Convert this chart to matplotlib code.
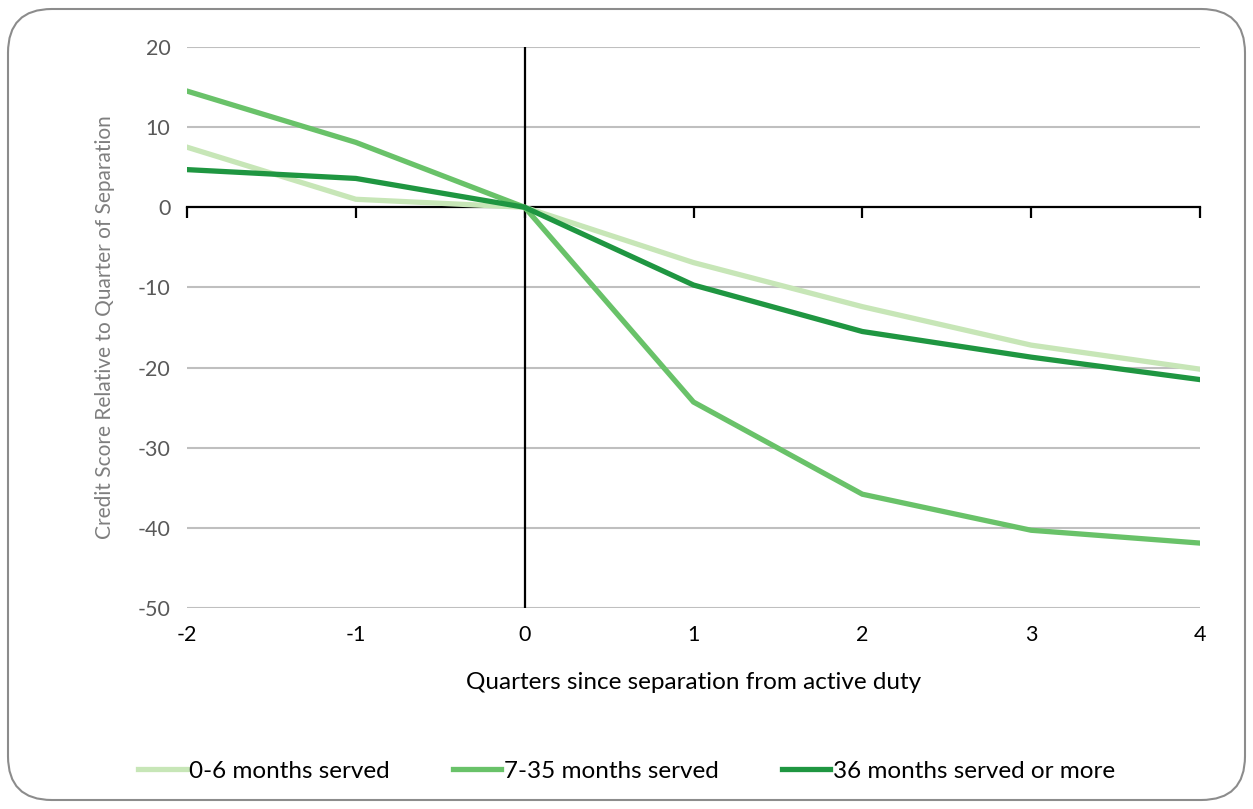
import matplotlib.pyplot as plt
from matplotlib.patches import FancyBboxPatch
from matplotlib.lines import Line2D

quarters = [-2, -1, 0, 1, 2, 3, 4]
short_served = [7.5, 1.0, 0.0, -6.9, -12.4, -17.2, -20.2]
mid_served = [14.5, 8.1, 0.0, -24.3, -35.8, -40.3, -41.9]
long_served = [4.7, 3.6, 0.0, -9.7, -15.5, -18.7, -21.5]

labels = ["0-6 months served", "7-35 months served", "36 months served or more"]
colors = ["#c7e6b7", "#69c269", "#1f9641"]
y_ticks = [20, 10, 0, -10, -20, -30, -40, -50]

plt.rcParams["font.family"] = ["Lato", "DejaVu Sans"]
plt.rcParams["axes.unicode_minus"] = False

fig = plt.figure(figsize=(12.53, 8.09), dpi=100)
ax = fig.add_axes([187 / 1253, 1 - 608 / 809, (1200 - 187) / 1253, (608 - 47) / 809])

# rounded frame around the chart area
frame = FancyBboxPatch((8 / 1253, 9 / 809), 1237 / 1253, 791 / 809,
                       boxstyle="round,pad=0,rounding_size=0.035",
                       transform=fig.transFigure, facecolor="none",
                       edgecolor="#8c8c8c", linewidth=1.5, mutation_aspect=1253 / 809)
fig.patches.append(frame)

for yv in y_ticks:
    if yv != 0:
        ax.axhline(yv, color="#bfbfbf", linewidth=1.5, zorder=1)

ax.axvline(0, color="black", linewidth=1.6, zorder=2)

series = [short_served, mid_served, long_served]
for vals, lab, col in zip(series, labels, colors):
    ax.plot(quarters, vals, color=col, linewidth=3.8, label=lab, zorder=3,
            solid_joinstyle="miter")

ax.set_xlim(-2, 4)
ax.set_ylim(-50, 20)

for s in ["top", "right", "left"]:
    ax.spines[s].set_visible(False)
ax.spines["bottom"].set_position(("data", 0))
ax.spines["bottom"].set_linewidth(1.6)
ax.spines["bottom"].set_zorder(2)

ax.set_xticks(quarters)
ax.tick_params(axis="x", direction="out", length=8, width=1.6, labelbottom=False)
ax.set_yticks(y_ticks)
ax.tick_params(axis="y", length=0, pad=12, labelsize=15.5, labelcolor="#595959")

# tick labels sit at the bottom of the plot, below the zero-line axis
sec = ax.secondary_xaxis("bottom")
sec.spines["bottom"].set_visible(False)
sec.set_xticks(quarters)
sec.set_xticklabels([str(q) for q in quarters])
sec.tick_params(length=0, pad=12, labelsize=15.5, labelcolor="black")
sec.set_xlabel("Quarters since separation from active duty", fontsize=17.5,
               color="black", labelpad=20)

ax.set_ylabel("Credit Score Relative to Quarter of Separation", fontsize=15,
              color="#7f7f7f", labelpad=16)

handles = [Line2D([0], [0], color=c, linewidth=3.8) for c in colors]
fig.legend(handles, labels, loc="center", bbox_to_anchor=(0.5, 1 - 771 / 809),
           ncol=3, frameon=False, fontsize=17.5, handlelength=2.0,
           handletextpad=0.1, columnspacing=2.6)

fig.savefig("out.png", dpi=100)
